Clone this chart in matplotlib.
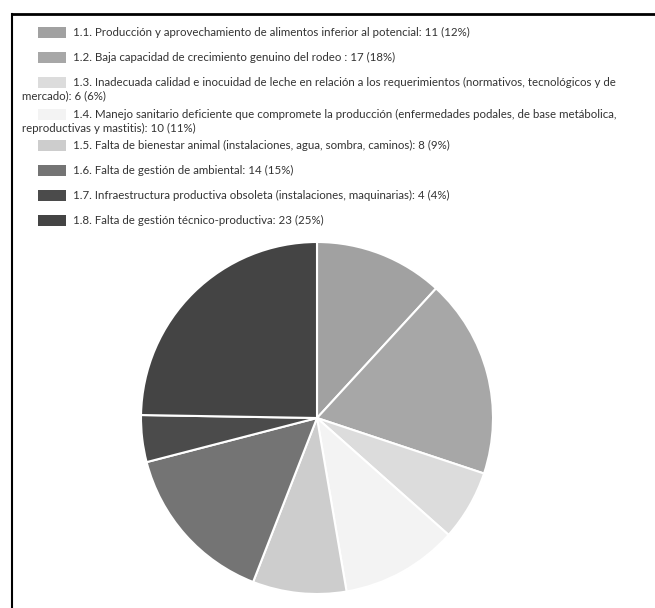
import matplotlib.pyplot as plt
from matplotlib.patches import Rectangle
from matplotlib.lines import Line2D

plt.rcParams['font.family'] = ['Lato', 'DejaVu Sans']

etiquetas = [
    "1.1. Producción y aprovechamiento de alimentos inferior al potencial: 11 (12%)",
    "1.2. Baja capacidad de crecimiento genuino del rodeo : 17 (18%)",
    "1.3. Inadecuada calidad e inocuidad de leche en relación a los requerimientos (normativos, tecnológicos y de\nmercado): 6 (6%)",
    "1.4. Manejo sanitario deficiente que compromete la producción (enfermedades podales, de base metábolica,\nreproductivas y mastitis): 10 (11%)",
    "1.5. Falta de bienestar animal (instalaciones, agua, sombra, caminos): 8 (9%)",
    "1.6. Falta de gestión de ambiental: 14 (15%)",
    "1.7. Infraestructura productiva obsoleta (instalaciones, maquinarias): 4 (4%)",
    "1.8. Falta de gestión técnico-productiva: 23 (25%)",
]
valores = [11, 17, 6, 10, 8, 14, 4, 23]
colores = ["#a1a1a1", "#a7a7a7", "#dcdcdc", "#f3f3f3", "#cdcdcd", "#747474", "#4b4b4b", "#444444"]

W, H = 655, 608
fig = plt.figure(figsize=(W / 100, H / 100), dpi=100)

# marco superior e izquierdo
fig.add_artist(Line2D([12 / W, 1], [1 - 14 / H, 1 - 14 / H], color="black", lw=2))
fig.add_artist(Line2D([12 / W, 12 / W], [0, 1 - 14 / H], color="black", lw=1.5))

# leyenda
fs = 8.3
filas_y = [32, 57, 82, 114, 145, 170, 195, 220]
for etiqueta, color, y in zip(etiquetas, colores, filas_y):
    fig.add_artist(Rectangle((38 / W, 1 - (y + 5.5) / H), 28 / W, 11 / H,
                             transform=fig.transFigure, facecolor=color, edgecolor="none"))
    lineas = etiqueta.split("\n")
    fig.text(73 / W, 1 - y / H, lineas[0], fontsize=fs, color="#333333", va="center")
    if len(lineas) > 1:
        fig.text(22 / W, 1 - (y + 14) / H, lineas[1], fontsize=fs, color="#333333", va="center")

# torta
cx, cy, r = 317, 418, 176
ax = fig.add_axes([(cx - r) / W, 1 - (cy + r) / H, 2 * r / W, 2 * r / H])
ax.pie(valores, colors=colores, startangle=90, counterclock=False,
       wedgeprops=dict(edgecolor="white", linewidth=1.5))
ax.set_xlim(-1, 1)
ax.set_ylim(-1, 1)
ax.set_aspect("equal")
ax.axis("off")

fig.savefig("out.png", dpi=100)
